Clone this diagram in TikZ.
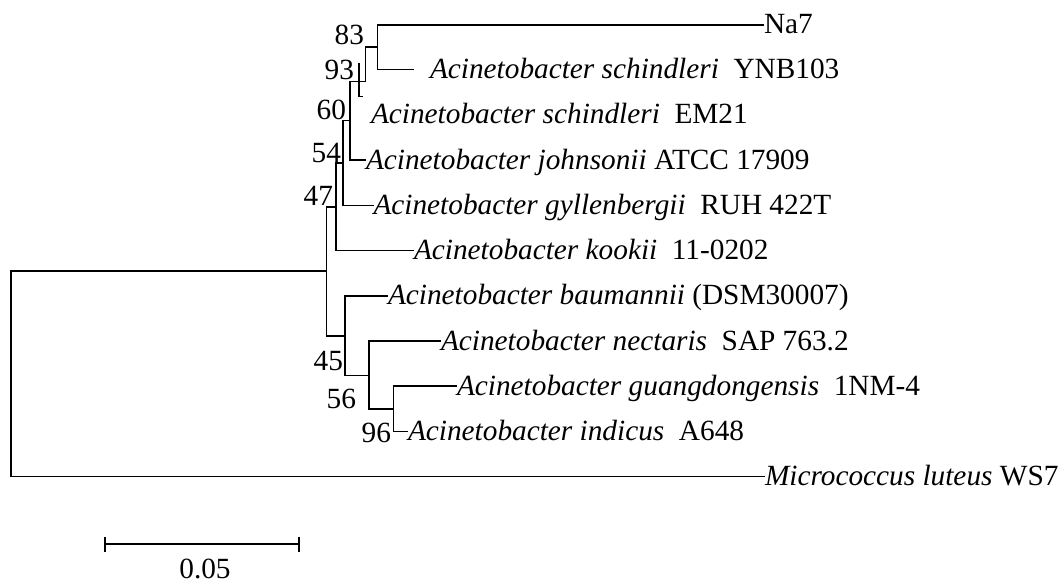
\documentclass[tikz,border=0pt]{standalone}
\usepackage{fontspec}
\setmainfont{Liberation Serif}
\begin{document}
\begin{tikzpicture}[x=1pt,y=-1pt, line width=1.6pt,
  leaf/.style={anchor=base west, inner sep=0pt, outer sep=0pt, font=\fontsize{29.3}{32}\selectfont},
  boot/.style={anchor=base east, inner sep=0pt, outer sep=0pt, font=\fontsize{29.3}{32}\selectfont},
  edge/.style={line width=1.6pt}]
\useasboundingbox (0,0) rectangle (1060,583);
% internal nodes
\coordinate (root) at (10.7,373.7);
\coordinate (nA) at (326.5,271);
\coordinate (n47) at (335.7,206.7);
\coordinate (n54) at (343,162.7);
\coordinate (n60) at (349.7,120.5);
\coordinate (n93) at (365.3,81.7);
\coordinate (n83) at (377.3,47.3);
\coordinate (n45) at (345,336);
\coordinate (n56) at (369,375.5);
\coordinate (n96) at (393.5,408.7);
% leaves
\coordinate (na7) at (764,25);
\coordinate (ynb) at (414,69.5);
\coordinate (em) at (371,115);
\coordinate (john) at (366,160);
\coordinate (gyll) at (373.5,205.3);
\coordinate (kook) at (414,250.5);
\coordinate (baum) at (388,295.7);
\coordinate (nect) at (441,341);
\coordinate (guang) at (457,386.1);
\coordinate (indi) at (408,431.3);
\coordinate (micro) at (765,476.5);
% odd EM21 stub
\coordinate (emA) at (358.7,63.3);
\coordinate (emB) at (363,96.7);
% branches
\draw[edge] (root) |- (nA);
\draw[edge] (root) |- (micro);
\draw[edge] (nA) |- (n47);
\draw[edge] (nA) |- (n45);
\draw[edge] (n47) |- (n54);
\draw[edge] (n47) |- (kook);
\draw[edge] (n54) |- (n60);
\draw[edge] (n54) |- (gyll);
\draw[edge] (n60) |- (n93);
\draw[edge] (n60) |- (john);
\draw[edge] (n93) |- (n83);
\draw[edge] (n83) |- (na7);
\draw[edge] (n83) |- (ynb);
\draw[edge] (emA) |- (emB);
\draw[edge] (n45) |- (baum);
\draw[edge] (n45) |- (n56);
\draw[edge] (n56) |- (nect);
\draw[edge] (n56) |- (n96);
\draw[edge] (n96) |- (guang);
\draw[edge] (n96) |- (indi);
% leaf labels
\node[leaf] (Lna7) at ([yshift=-9pt]na7) {Na7};
\node[leaf,xshift=16pt] (Lynb) at ([yshift=-9pt]ynb) {\textit{Acinetobacter schindleri}~~YNB103};
\node[leaf] (Lem) at ([yshift=-9pt]em) {\textit{Acinetobacter schindleri}~~EM21};
\node[leaf] (Ljohn) at ([yshift=-9pt]john) {\textit{Acinetobacter johnsonii} ATCC 17909};
\node[leaf] (Lgyll) at ([yshift=-9pt]gyll) {\textit{Acinetobacter gyllenbergii}~~RUH 422T};
\node[leaf] (Lkook) at ([yshift=-9pt]kook) {\textit{Acinetobacter kookii}~~11-0202};
\node[leaf] (Lbaum) at ([yshift=-9pt]baum) {\textit{Acinetobacter baumannii} (DSM30007)};
\node[leaf] (Lnect) at ([yshift=-9pt]nect) {\textit{Acinetobacter nectaris}~~SAP 763.2};
\node[leaf] (Lguang) at ([yshift=-9pt]guang) {\textit{Acinetobacter guangdongensis}~~1NM-4};
\node[leaf] (Lindi) at ([yshift=-9pt]indi) {\textit{Acinetobacter indicus}~~A648};
\node[leaf] (Lmicro) at ([yshift=-9pt]micro) {\textit{Micrococcus luteus} WS7};
% bootstrap values
\node[boot] (b83) at (364,45) {83};
\node[boot] (b93) at (354,80) {93};
\node[boot] (b60) at (346,120) {60};
\node[boot] (b54) at (341,162) {54};
\node[boot] (b47) at (333,205) {47};
\node[boot] (b45) at (343,370) {45};
\node[boot] (b56) at (356,408) {56};
\node[boot] (b96) at (391,442) {96};
% scale bar
\coordinate (sbL) at (105,544);
\coordinate (sbR) at (299,544);
\draw[edge] (sbL) -- (sbR);
\draw[edge] ([yshift=7.5pt]sbL) -- ([yshift=-7.5pt]sbL);
\draw[edge] ([yshift=7.5pt]sbR) -- ([yshift=-7.5pt]sbR);
\node[anchor=base, inner sep=0pt, font=\fontsize{29.3}{32}\selectfont] (sblab) at (205,578) {0.05};
\end{tikzpicture}
\end{document}
